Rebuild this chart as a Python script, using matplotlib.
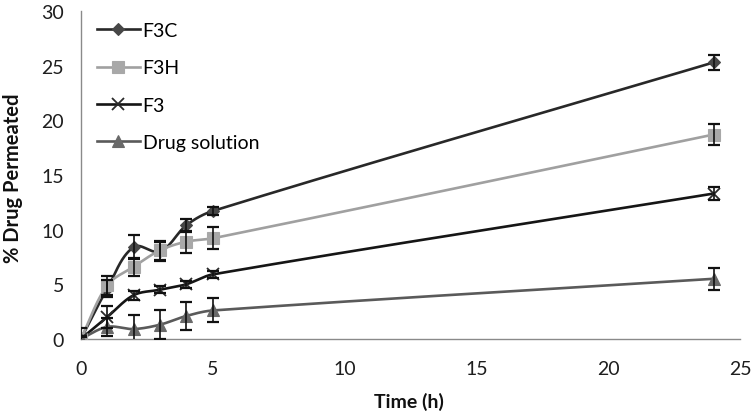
import numpy as np
import matplotlib
matplotlib.use("Agg")
import matplotlib.pyplot as plt
from matplotlib.lines import Line2D

plt.rcParams['font.family'] = ['Lato', 'DejaVu Sans']

time_h = [0, 1, 2, 3, 4, 5, 24]
f3c = [0, 4.6, 8.4, 8.0, 10.4, 11.7, 25.3]
f3c_err = [0.3, 0.8, 1.1, 0.9, 0.6, 0.4, 0.7]
f3h = [0, 4.9, 6.6, 8.1, 8.9, 9.2, 18.7]
f3h_err = [0.3, 0.9, 0.8, 0.9, 1.0, 1.0, 0.95]
f3 = [0, 2.0, 4.0, 4.5, 5.0, 5.9, 13.3]
f3_err = [0.2, 1.0, 0.4, 0.3, 0.3, 0.3, 0.6]
drug = [0, 1.1, 0.9, 1.3, 2.1, 2.6, 5.5]
drug_err = [1.0, 0.8, 1.3, 1.3, 1.3, 1.1, 1.0]

x_ticks = [0, 5, 10, 15, 20, 25]
y_ticks = [0, 5, 10, 15, 20, 25, 30]

XLIM = (0, 25)
YLIM = (0, 30)
AX_RECT = [0.107, 0.179, 0.872, 0.792]
FIG_W, FIG_H = 7.56, 4.14


def smooth(x, y, n=50, k=0.33):
    # tangent-based cubic smoothing computed in (approximate) screen space
    sx = AX_RECT[2] * FIG_W / (XLIM[1] - XLIM[0])
    sy = AX_RECT[3] * FIG_H / (YLIM[1] - YLIM[0])
    P = np.column_stack([np.asarray(x, float) * sx, np.asarray(y, float) * sy])
    m = len(P)
    D = []
    for i in range(m):
        if i == 0:
            d = P[1] - P[0]
        elif i == m - 1:
            d = P[-1] - P[-2]
        else:
            d = P[i + 1] - P[i - 1]
        D.append(d / np.linalg.norm(d))
    out = []
    for i in range(m - 1):
        p1, p2 = P[i], P[i + 1]
        L = np.linalg.norm(p2 - p1)
        c1 = p1 + D[i] * L * k
        c2 = p2 - D[i + 1] * L * k
        t = np.linspace(0, 1, n)[:, None]
        seg = ((1 - t) ** 3) * p1 + 3 * ((1 - t) ** 2) * t * c1 + 3 * (1 - t) * t ** 2 * c2 + t ** 3 * p2
        out.append(seg if i == 0 else seg[1:])
    s = np.vstack(out)
    return s[:, 0] / sx, s[:, 1] / sy


fig = plt.figure(figsize=(FIG_W, FIG_H), dpi=100)
ax = fig.add_axes(AX_RECT)

series = [
    ("F3C", f3c, f3c_err, "#282828", "D", "#474747", 6, "#474747"),
    ("F3H", f3h, f3h_err, "#a0a0a0", "s", "#a8a8a8", 8, "#a8a8a8"),
    ("F3", f3, f3_err, "#151515", "x", "#2a2a2a", 9, "#2a2a2a"),
    ("Drug solution", drug, drug_err, "#5a5a5a", "^", "#696969", 8, "#696969"),
]

handles = []
for name, vals, err, lc, mk, mc, ms, mec in series:
    sxv, syv = smooth(time_h, vals)
    ax.plot(sxv, syv, color=lc, lw=1.9, zorder=2, solid_capstyle='round')
    ax.errorbar(time_h, vals, yerr=err, fmt='none', ecolor='#111111',
                elinewidth=1.2, capsize=4, capthick=1.6, zorder=4)
    mew = 1.3 if mk == 'x' else 0.8
    ax.plot(time_h, vals, linestyle='none', marker=mk, markersize=ms,
            markerfacecolor=mc, markeredgecolor=mec, markeredgewidth=mew, zorder=3)
    handles.append(Line2D([], [], color=lc, lw=1.9, marker=mk, markersize=ms,
                          markerfacecolor=mc, markeredgecolor=mec,
                          markeredgewidth=mew, label=name))

ax.set_xlim(*XLIM)
ax.set_ylim(*YLIM)
ax.set_xticks(x_ticks)
ax.set_yticks(y_ticks)
ax.tick_params(axis='both', length=0, labelsize=14, colors='#1e1e1e')
ax.tick_params(axis='y', pad=12)
ax.tick_params(axis='x', pad=15)
for s in ['top', 'right']:
    ax.spines[s].set_visible(False)
for s in ['left', 'bottom']:
    ax.spines[s].set_color('#8a8a8a')
    ax.spines[s].set_linewidth(1.0)

fig.text(409 / 756, 1 - 402 / 414, "Time (h)", fontsize=14, fontweight='bold',
         ha='center', va='center', color='#111111')
fig.text(13 / 756, 1 - 178 / 414, "% Drug Permeated", fontsize=14.5, fontweight='bold',
         ha='center', va='center', rotation=90, color='#111111')

leg = ax.legend(handles=handles, loc='upper left', frameon=False, fontsize=14,
                handlelength=2.2, handletextpad=0.15, labelspacing=1.05,
                borderpad=0, borderaxespad=0,
                bbox_to_anchor=(16 / 659, 1 - 11 / 328))

fig.savefig("out.png", dpi=100)
